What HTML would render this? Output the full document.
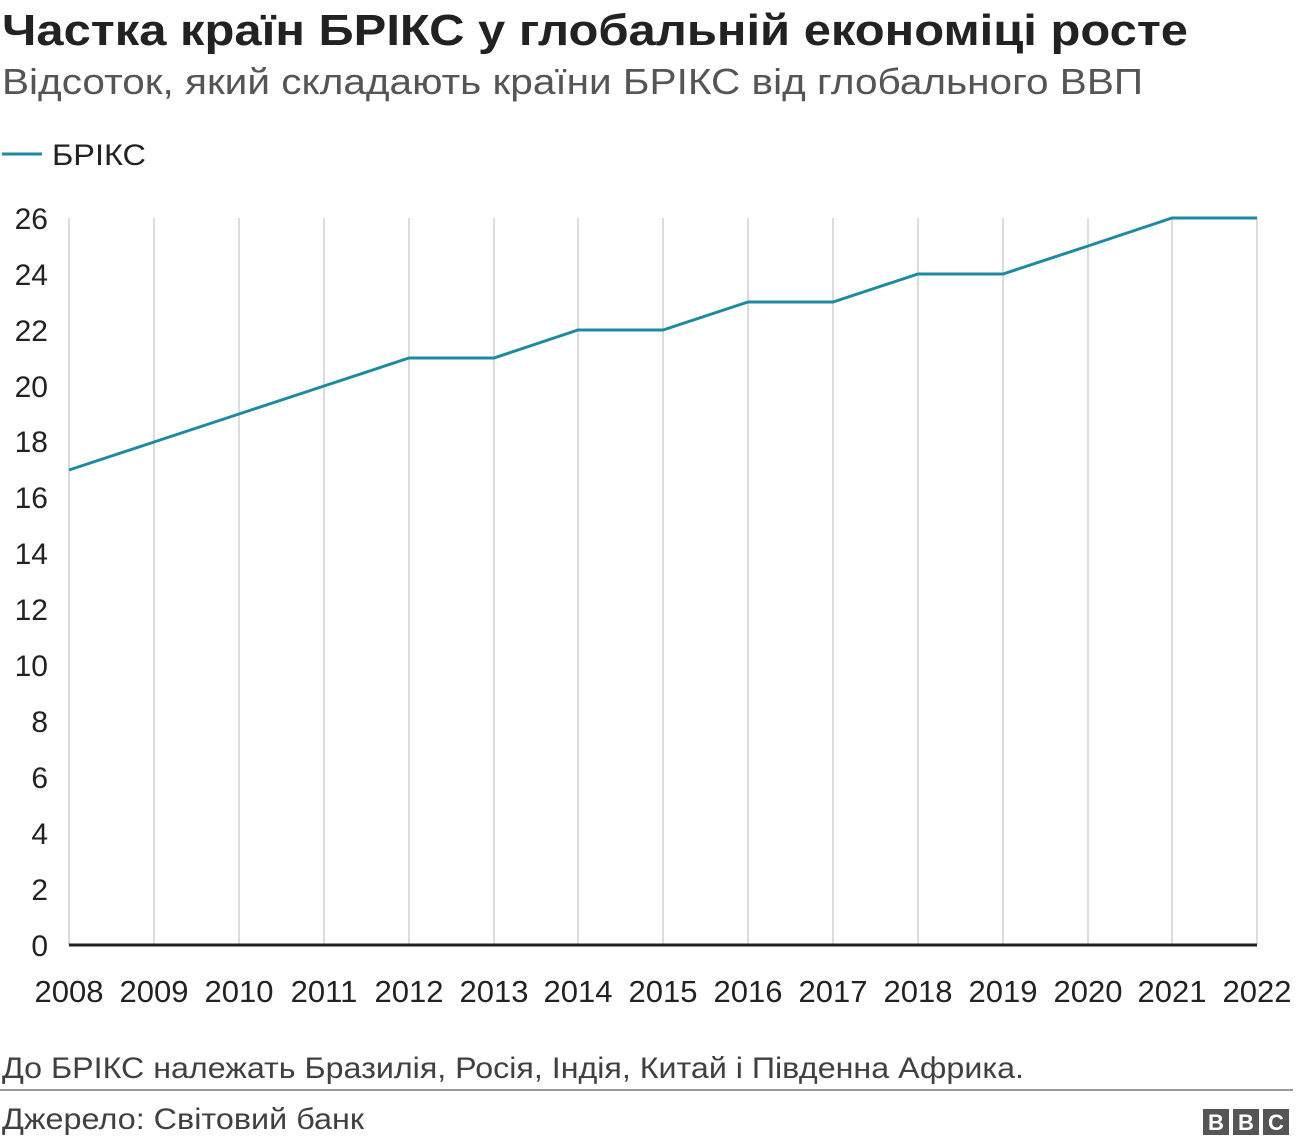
<!DOCTYPE html>
<html><head><meta charset="utf-8"><style>
html,body{margin:0;padding:0;background:#fff;width:1296px;height:1146px;overflow:hidden}
svg text{font-family:"Liberation Sans",sans-serif}
</style></head><body>
<svg width="1296" height="1146" xmlns="http://www.w3.org/2000/svg">
<text x="2" y="45" font-size="44" font-weight="bold" fill="#222" textLength="1186" lengthAdjust="spacingAndGlyphs">Частка країн БРІКС у глобальній економіці росте</text>
<text x="2" y="94" font-size="36" fill="#555" textLength="1141" lengthAdjust="spacingAndGlyphs">Відсоток, який складають країни БРІКС від глобального ВВП</text>
<line x1="2" y1="154" x2="42" y2="154" stroke="#1d8aa0" stroke-width="3"/>
<text x="52" y="165" font-size="30" fill="#222" textLength="94" lengthAdjust="spacingAndGlyphs">БРІКС</text>
<g stroke="#d0d0d0" stroke-width="1.5">
<line x1="69" y1="218" x2="69" y2="945"/><line x1="154" y1="218" x2="154" y2="945"/><line x1="239" y1="218" x2="239" y2="945"/><line x1="324" y1="218" x2="324" y2="945"/><line x1="409" y1="218" x2="409" y2="945"/><line x1="494" y1="218" x2="494" y2="945"/><line x1="578" y1="218" x2="578" y2="945"/><line x1="663" y1="218" x2="663" y2="945"/><line x1="748" y1="218" x2="748" y2="945"/><line x1="833" y1="218" x2="833" y2="945"/><line x1="918" y1="218" x2="918" y2="945"/><line x1="1003" y1="218" x2="1003" y2="945"/><line x1="1088" y1="218" x2="1088" y2="945"/><line x1="1172" y1="218" x2="1172" y2="945"/><line x1="1257" y1="218" x2="1257" y2="945"/>
</g>
<line x1="69" y1="945" x2="1257" y2="945" stroke="#222" stroke-width="3"/>
<g font-size="30" fill="#222" text-anchor="end">
<text x="48" y="956">0</text><text x="48" y="900">2</text><text x="48" y="844">4</text><text x="48" y="788">6</text><text x="48" y="732">8</text><text x="48" y="676">10</text><text x="48" y="620">12</text><text x="48" y="564">14</text><text x="48" y="508">16</text><text x="48" y="452">18</text><text x="48" y="397">20</text><text x="48" y="341">22</text><text x="48" y="285">24</text><text x="48" y="229">26</text>
</g>
<g font-size="31" fill="#222" text-anchor="middle">
<text x="69" y="1002">2008</text><text x="154" y="1002">2009</text><text x="239" y="1002">2010</text><text x="324" y="1002">2011</text><text x="409" y="1002">2012</text><text x="494" y="1002">2013</text><text x="578" y="1002">2014</text><text x="663" y="1002">2015</text><text x="748" y="1002">2016</text><text x="833" y="1002">2017</text><text x="918" y="1002">2018</text><text x="1003" y="1002">2019</text><text x="1088" y="1002">2020</text><text x="1172" y="1002">2021</text><text x="1257" y="1002">2022</text>
</g>
<polyline fill="none" stroke="#1d8aa0" stroke-width="3" points="69,470 154,442 239,414 324,386 409,358 494,358 578,330 663,330 748,302 833,302 918,274 1003,274 1088,246 1172,218 1257,218"/>
<text x="2" y="1078" font-size="30" fill="#404040" textLength="1022" lengthAdjust="spacingAndGlyphs">До БРІКС належать Бразилія, Росія, Індія, Китай і Південна Африка.</text>
<line x1="0" y1="1090" x2="1293" y2="1090" stroke="#999" stroke-width="2"/>
<text x="2" y="1129" font-size="30" fill="#404040" textLength="362" lengthAdjust="spacingAndGlyphs">Джерело: Світовий банк</text>
<g fill="#555"><rect x="1203" y="1109" width="26" height="26"/><rect x="1233" y="1109" width="26" height="26"/><rect x="1263" y="1109" width="26" height="26"/></g>
<g font-size="22" font-weight="bold" fill="#fff" text-anchor="middle"><text x="1216" y="1130">B</text><text x="1246" y="1130">B</text><text x="1276" y="1130">C</text></g>
</svg>
</body></html>
